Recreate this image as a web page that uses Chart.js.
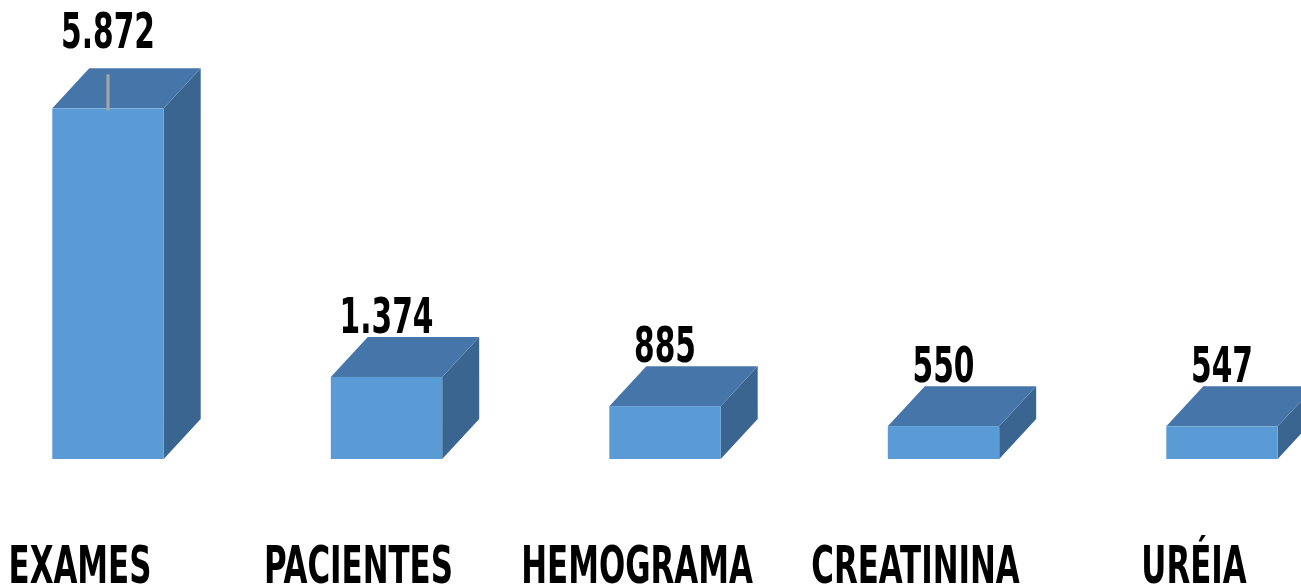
<!DOCTYPE html>
<html>
<head>
<meta charset="utf-8">
<script src="https://cdn.jsdelivr.net/npm/chart.js@4/dist/chart.umd.min.js"></script>
<style>
html,body{margin:0;padding:0;background:#fff;}
#wrap{width:1301px;height:587px;}
</style>
</head>
<body>
<div id="wrap"><canvas id="c" width="1301" height="587"></canvas></div>
<script>
const categories = ["EXAMES", "PACIENTES", "HEMOGRAMA", "CREATININA", "URÉIA"];
const values = [5872, 1374, 885, 550, 547];

const FRONT = "#5b9bd5";
const TOP = "#4676a9";
const SIDE = "#3b6591";
const DX = 37, DY = 40;
const FONT = "bold 50px 'DejaVu Sans Condensed', 'DejaVu Sans', sans-serif";
const SQUEEZE = 0.66;

function fmt(v){
  return String(v).replace(/\B(?=(\d{3})+(?!\d))/g, ".");
}

function squeezedText(ctx, text, x, y){
  ctx.save();
  ctx.translate(x, y);
  ctx.scale(SQUEEZE, 1);
  ctx.fillText(text, 0, 0);
  ctx.restore();
}

const bars3d = {
  id: "bars3d",
  afterDatasetsDraw(chart){
    const ctx = chart.ctx;
    const meta = chart.getDatasetMeta(0);
    const maxV = Math.max(...values);
    meta.data.forEach((bar, i) => {
      const {x, y, base, width} = bar.getProps(["x","y","base","width"], true);
      const l = x - width/2, r = x + width/2;
      ctx.save();
      // side
      ctx.fillStyle = SIDE;
      ctx.beginPath();
      ctx.moveTo(r, y); ctx.lineTo(r+DX, y-DY); ctx.lineTo(r+DX, base-DY); ctx.lineTo(r, base);
      ctx.closePath(); ctx.fill();
      // top
      ctx.fillStyle = TOP;
      ctx.beginPath();
      ctx.moveTo(l, y); ctx.lineTo(l+DX, y-DY); ctx.lineTo(r+DX, y-DY); ctx.lineTo(r, y);
      ctx.closePath(); ctx.fill();
      // front
      ctx.fillStyle = FRONT;
      ctx.fillRect(l, y, width, base - y);
      // label
      const isMax = values[i] === maxV;
      let ty = y - DY - 4;
      if (isMax){
        ctx.strokeStyle = "#a6a6a6";
        ctx.lineWidth = 3;
        ctx.beginPath();
        ctx.moveTo(x, y - DY + 6); ctx.lineTo(x, y + 2);
        ctx.stroke();
        ty = y - DY - 20;
      }
      ctx.fillStyle = "#000";
      ctx.font = FONT;
      ctx.textAlign = "center";
      ctx.textBaseline = "alphabetic";
      squeezedText(ctx, fmt(values[i]), x, ty);
      ctx.restore();
    });
    // category labels
    const xs = chart.scales.x;
    ctx.save();
    ctx.fillStyle = "#000";
    ctx.font = "bold 52px 'DejaVu Sans Condensed', 'DejaVu Sans', sans-serif";
    ctx.textAlign = "center";
    ctx.textBaseline = "alphabetic";
    categories.forEach((c, i) => {
      squeezedText(ctx, c, xs.getPixelForValue(i) - 28, 583);
    });
    ctx.restore();
  }
};

new Chart(document.getElementById("c"), {
  type: "bar",
  data: {
    labels: categories,
    datasets: [{
      data: values,
      backgroundColor: "rgba(0,0,0,0)",
      borderWidth: 0,
      categoryPercentage: 1,
      barPercentage: 0.4
    }]
  },
  options: {
    responsive: false,
    animation: false,
    devicePixelRatio: 1,
    layout: { padding: { left: 108, right: 79, top: 41, bottom: 128 } },
    plugins: { legend: { display: false }, tooltip: { enabled: false } },
    scales: {
      x: { display: false, offset: false },
      y: { display: false, min: 0, max: 7000 }
    }
  },
  plugins: [bars3d]
});
</script>
</body>
</html>
